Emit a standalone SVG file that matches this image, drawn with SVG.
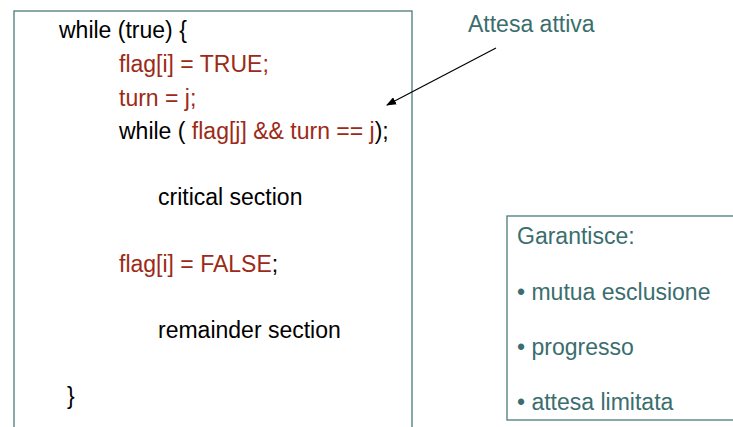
<svg xmlns="http://www.w3.org/2000/svg" width="733" height="427" viewBox="0 0 733 427">
<style>
text{font-family:"Liberation Sans",Arial,sans-serif;font-size:23px}
.k{fill:#000}
.r{fill:#9C2A17}
.t{fill:#3A6E6E}
.box{fill:#fff;stroke:#4A7A7A;stroke-width:1.3}
</style>
<defs>
<marker id="ah" markerWidth="10" markerHeight="8" refX="9" refY="4" orient="auto" markerUnits="userSpaceOnUse">
<path d="M0,0 L10,4 L0,8 Z" fill="#000"/>
</marker>
</defs>
<rect width="733" height="427" fill="#fff"/>
<g id="code">
<rect class="box" x="14" y="11" width="398" height="430"/>
<text class="k" x="59" y="38">while (true) {</text>
<text class="r" x="119" y="72">flag[i] = TRUE;</text>
<text class="r" x="119" y="106">turn = j;</text>
<text class="k" x="119" y="139">while ( <tspan class="r">flag[j] &amp;&amp; turn == j</tspan>);</text>
<text class="k" x="158" y="205">critical section</text>
<text class="r" x="119" y="272">flag[i] = FALSE<tspan class="k">;</tspan></text>
<text class="k" x="158" y="338">remainder section</text>
<text class="k" x="67" y="404">}</text>
</g>
<g id="label">
<text class="t" x="468" y="32">Attesa attiva</text>
</g>
<g id="guarantees">
<rect class="box" x="507" y="216" width="232" height="204"/>
<text class="t" x="517" y="244">Garantisce:</text>
<text class="t" x="517" y="300">• mutua esclusione</text>
<text class="t" x="517" y="355">• progresso</text>
<text class="t" x="517" y="410">• attesa limitata</text>
</g>
<g id="connectors">
<line x1="496" y1="48" x2="387" y2="105" stroke="#000" stroke-width="1.2" marker-end="url(#ah)"/>
</g>
</svg>
